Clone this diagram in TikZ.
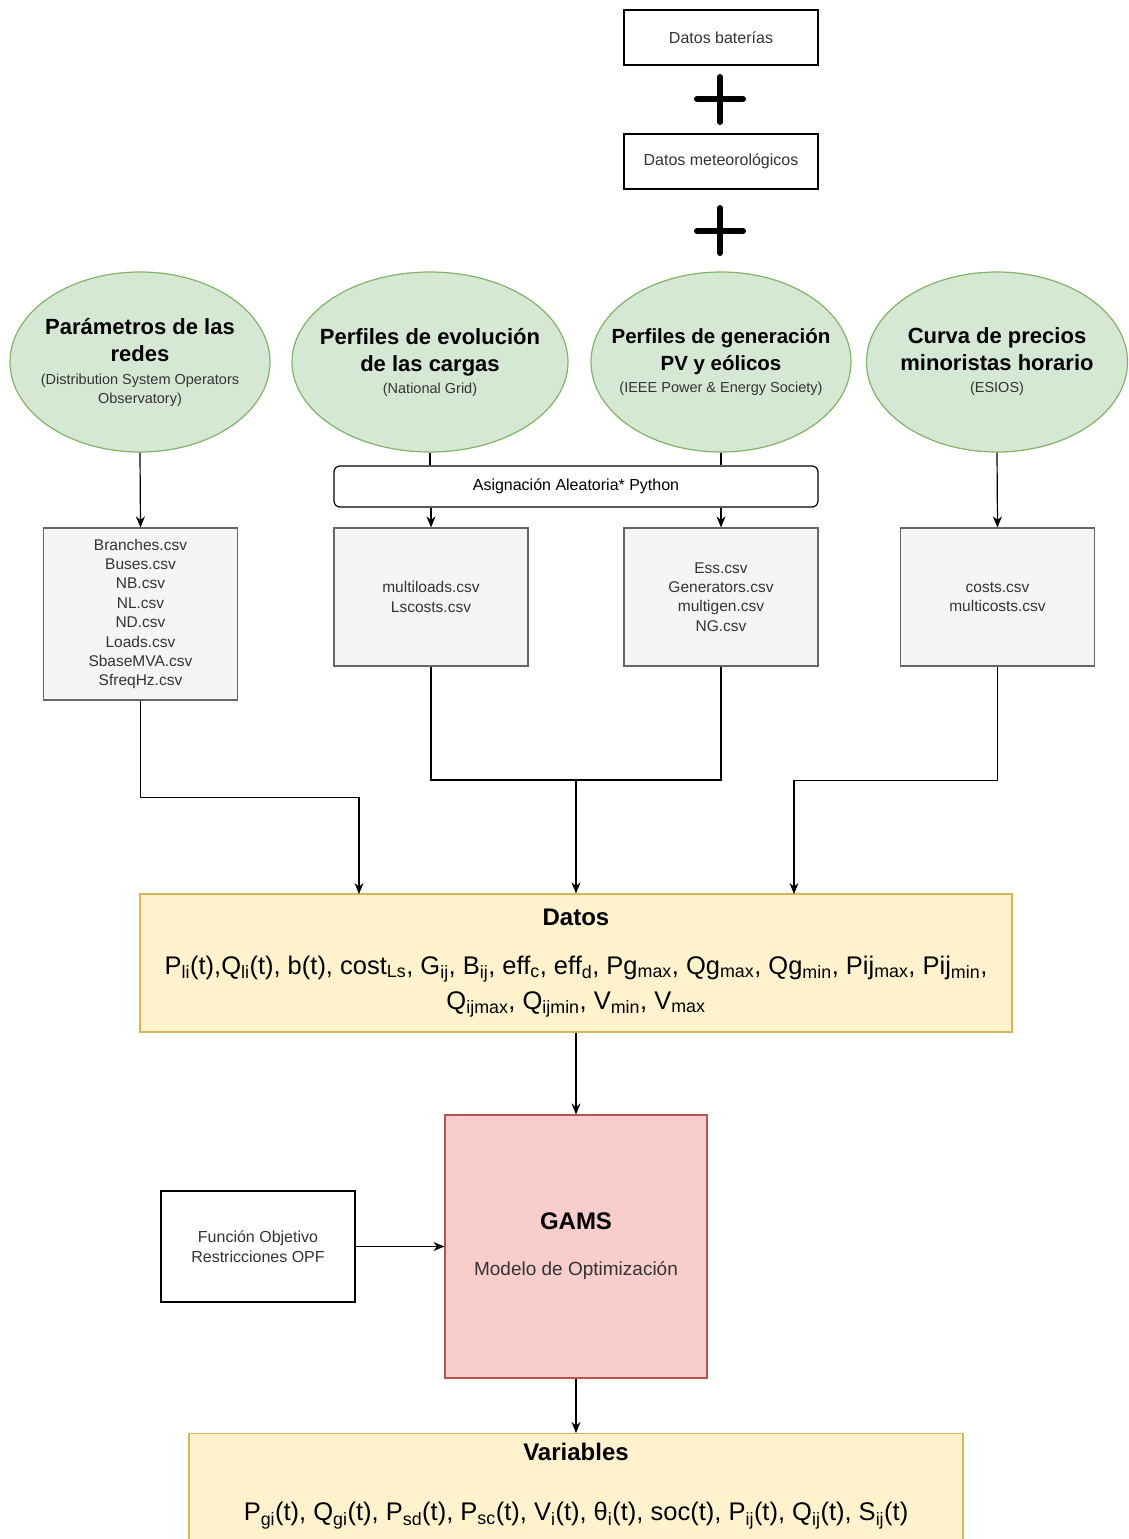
\documentclass[tikz,border=0pt]{standalone}
\usepackage{fontspec}
\setmainfont{Liberation Sans}
\usetikzlibrary{positioning,arrows.meta,shapes.geometric}
\definecolor{verde}{HTML}{D5E8D4}
\definecolor{verdeb}{HTML}{82B366}
\definecolor{gris}{HTML}{F5F5F5}
\definecolor{grisb}{HTML}{666666}
\definecolor{amarillo}{HTML}{FFF2CC}
\definecolor{amarillob}{HTML}{D6B656}
\definecolor{rojo}{HTML}{F8CECC}
\definecolor{rojob}{HTML}{B85450}
\definecolor{texto}{HTML}{333333}
\newcommand{\fs}[2]{\fontsize{#1}{#2}\selectfont}
\newcommand{\sbs}[1]{\textsubscript{#1}}

\begin{document}
\begin{tikzpicture}[x=1pt, y=-1pt, line width=1.2pt, >={Stealth[length=11pt,width=9pt]},
    fuente/.style={ellipse, draw=verdeb, fill=verde, minimum width=#1, minimum height=180, inner xsep=-60pt, inner ysep=0pt, align=center, font=\fs{22}{27}},
    fichero/.style={draw=grisb, fill=gris, minimum width=194, minimum height=#1, inner sep=0pt, align=center, text=texto, font=\fs{15.5}{19.4}},
    caja/.style={draw=black, fill=white, minimum width=194, inner sep=0pt, align=center, text=texto, font=\fs{16}{20}},
    datosbox/.style={draw=amarillob, fill=amarillo, inner sep=0pt, align=center},
    mas/.style={line width=6pt, line cap=round}]
    \useasboundingbox (0,0) rectangle (1128,1539);

    % entradas
    \node[caja, minimum height=55] (bat) at (721,37.5) {Datos baterías};
    \draw[mas] (720,77) -- (720,122);
    \draw[mas] (697,99) -- (743,99);
    \node[caja, minimum height=55] (met) at (721,161.5) {Datos meteorológicos};
    \draw[mas] (720,208) -- (720,253);
    \draw[mas] (697,231) -- (743,231);

    \node[fuente=260] (redes) at (140,362) {{\bfseries Parámetros de las}\\{\bfseries redes}\\[-4pt]{\fs{14.5}{19}\color{texto}(Distribution System Operators}\\[-8pt]{\fs{14.5}{19}\color{texto}Observatory)}};
    \node[fuente=276] (cargas) at (430,362) {{\bfseries Perfiles de evolución}\\{\bfseries de las cargas}\\[-5pt]{\fs{14.5}{19}\color{texto}(National Grid)}};
    \node[fuente=260] (gen) at (721,362) {{\bfseries\fs{20.5}{27}Perfiles de generación}\\{\bfseries\fs{20.5}{27}PV y eólicos}\\[-5pt]{\fs{14.5}{19}\color{texto}(IEEE Power \& Energy Society)}};
    \node[fuente=261] (precios) at (997,362) {{\bfseries Curva de precios}\\{\bfseries minoristas horario}\\[-5pt]{\fs{14.5}{19}\color{texto}(ESIOS)}};

    \node[caja, minimum width=484, minimum height=41, rounded corners=6, text=black] (asig) at (576,486.5) {Asignación Aleatoria* Python};

    % ficheros csv
    \node[fichero=172] (ramas) at (140.5,614) {Branches.csv\\Buses.csv\\NB.csv\\NL.csv\\ND.csv\\Loads.csv\\SbaseMVA.csv\\SfreqHz.csv};
    \node[fichero=138] (cargasf) at (431,597) {multiloads.csv\\Lscosts.csv};
    \node[fichero=138] (genf) at (721,597) {Ess.csv\\Generators.csv\\multigen.csv\\NG.csv};
    \node[fichero=138] (preciosf) at (997.5,597) {costs.csv\\multicosts.csv};

    \node[datosbox, minimum width=872, minimum height=138, font=\fs{25.5}{35}] (datos) at (576,963) {{\bfseries\fs{24}{29}Datos}\\[14pt]P\sbs{li}(t),Q\sbs{li}(t), b(t), cost\sbs{Ls}, G\sbs{ij}, B\sbs{ij}, eff\sbs{c}, eff\sbs{d}, Pg\sbs{max}, Qg\sbs{max}, Qg\sbs{min}, Pij\sbs{max}, Pij\sbs{min},\\Q\sbs{ijmax}, Q\sbs{ijmin}, V\sbs{min}, V\sbs{max}};

    \node[draw=rojob, fill=rojo, minimum width=262, minimum height=263, inner sep=0pt, align=center, font=\fs{19}{23}, text=texto] (gams) at (576,1246.5) {{\bfseries\fs{24}{29}\color{black}GAMS}\\[23pt]Modelo de Optimización};
    \node[caja, minimum height=111] (obj) at (258,1246.5) {Función Objetivo\\Restricciones OPF};

    \node[datosbox, minimum width=774, minimum height=160, anchor=north] (vars) at (576,1433) {};
    \node[align=center, inner sep=0pt, font=\fs{25.5}{35}] (varstxt) at (576,1486) {{\bfseries\fs{24}{29}Variables}\\[25pt]P\sbs{gi}(t), Q\sbs{gi}(t), P\sbs{sd}(t), P\sbs{sc}(t), V\sbs{i}(t), θ\sbs{i}(t), soc(t), P\sbs{ij}(t), Q\sbs{ij}(t), S\sbs{ij}(t)};

    \coordinate (entA) at (359,894);
    \coordinate (entC) at (794,894);
    \coordinate (union) at (576,780);

    \draw[->] (redes.south) -- (ramas.north);
    \draw (cargas.south) -- (cargas.south |- asig.north);
    \draw (gen.south) -- (gen.south |- asig.north);
    \draw[->] (asig.south -| cargasf.north) -- (cargasf.north);
    \draw[->] (asig.south -| genf.north) -- (genf.north);
    \draw[->] (precios.south) -- (preciosf.north);

    \draw[->] (ramas.south) -- ++(0,97) -| (entA);
    \draw (cargasf.south) |- (union);
    \draw (genf.south) |- (union);
    \draw[->] (union) -- (datos.north);
    \draw[->] (preciosf.south) -- ++(0,114) -| (entC);

    \draw[->] (datos.south) -- (gams.north);
    \draw[->] (obj.east) -- (gams.west);
    \draw[->] (gams.south) -- (vars.north);
\end{tikzpicture}
\end{document}
